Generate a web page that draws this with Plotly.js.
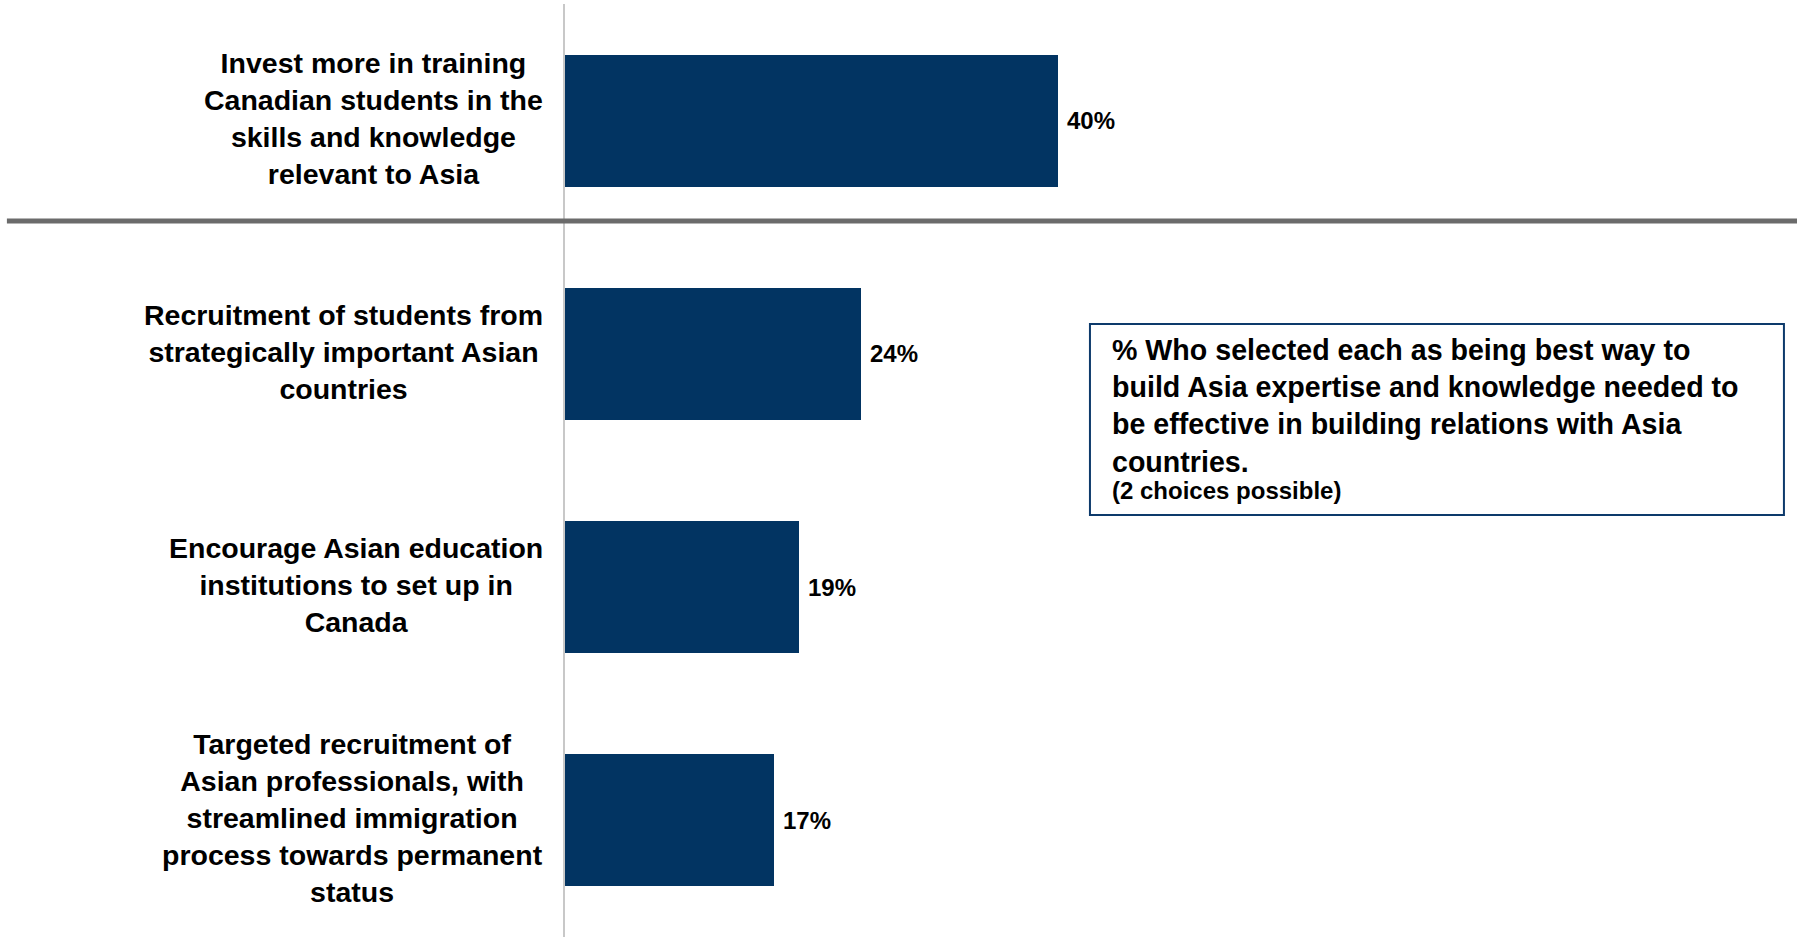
<!DOCTYPE html>
<html>
<head>
<meta charset="utf-8">
<script src="https://cdn.plot.ly/plotly-3.0.1.min.js"></script>
<style>
  html, body { margin: 0; padding: 0; background: #ffffff; }
  #chart { width: 1797px; height: 937px; }
</style>
</head>
<body>
<div id="chart"></div>
<script>
// ---- data ----
const categories = [
  "Invest more in training<br>Canadian students in the<br>skills and knowledge<br>relevant to Asia",
  "Recruitment of students from<br>strategically important Asian<br>countries",
  "Encourage Asian education<br>institutions to set up in<br>Canada",
  "Targeted recruitment of<br>Asian professionals, with<br>streamlined immigration<br>process towards permanent<br>status"
];
const values = [40, 24, 19, 17];
const valueLabels = ["40%", "24%", "19%", "17%"];
const boxTitle = "% Who selected each as being best way to<br>build Asia expertise and knowledge needed to<br>be effective in building relations with Asia<br>countries.";
const boxNote = "(2 choices possible)";

// ---- styling ----
const FONT = "'Liberation Sans', Arial, sans-serif";
const BAR_COLOR = "#023462";
const catIds = categories.map((c, i) => "c" + i);

const trace = {
  type: "bar",
  orientation: "h",
  x: values,
  y: catIds,
  marker: { color: BAR_COLOR, line: { width: 0 } },
  width: 0.565,
  hoverinfo: "skip"
};

const annotations = [];
categories.forEach((c, i) => {
  annotations.push({
    xref: "x", yref: "y", x: 0, y: catIds[i],
    xanchor: "right", yanchor: "middle", xshift: -20, yshift: 2,
    text: c, align: "center", showarrow: false,
    font: { family: FONT, size: 28.5, color: "#000000", weight: 700 }
  });
  annotations.push({
    xref: "x", yref: "y", x: values[i], y: catIds[i],
    xanchor: "left", yanchor: "middle", xshift: 7,
    text: valueLabels[i], showarrow: false,
    font: { family: FONT, size: 24, color: "#000000", weight: 700 }
  });
});

annotations.push({
  xref: "paper", yref: "paper", x: 0.4424, y: 0.648,
  xanchor: "left", yanchor: "top", align: "left",
  text: boxTitle, showarrow: false,
  font: { family: FONT, size: 28.6, color: "#000000", weight: 700 }
});
annotations.push({
  xref: "paper", yref: "paper", x: 0.4424, y: 0.479,
  xanchor: "left", yanchor: "middle", align: "left",
  text: boxNote, showarrow: false,
  font: { family: FONT, size: 24, color: "#000000", weight: 700 }
});

const layout = {
  width: 1797, height: 937,
  margin: { l: 565, r: 0, t: 4, b: 0, pad: 0 },
  paper_bgcolor: "#ffffff", plot_bgcolor: "#ffffff",
  showlegend: false,
  bargap: 0,
  xaxis: { range: [0, 100], visible: false, fixedrange: true },
  yaxis: {
    type: "category", categoryarray: catIds, range: [3.5, -0.5],
    showticklabels: false, showgrid: false, zeroline: false, ticks: "",
    showline: true, linecolor: "#c8c8c8", linewidth: 2, fixedrange: true
  },
  shapes: [
    { type: "line", xref: "paper", yref: "paper",
      x0: -0.453, x1: 1, y0: 0.7675, y1: 0.7675,
      line: { color: "#6b6b6b", width: 5 } },
    { type: "rect", xref: "paper", yref: "paper",
      x0: 0.4261, x1: 0.9894, y0: 0.4523, y1: 0.657,
      line: { color: "#0d3a6b", width: 2 }, fillcolor: "rgba(0,0,0,0)" }
  ],
  annotations: annotations
};

Plotly.newPlot("chart", [trace], layout, { displayModeBar: false, staticPlot: true });
</script>
</body>
</html>
